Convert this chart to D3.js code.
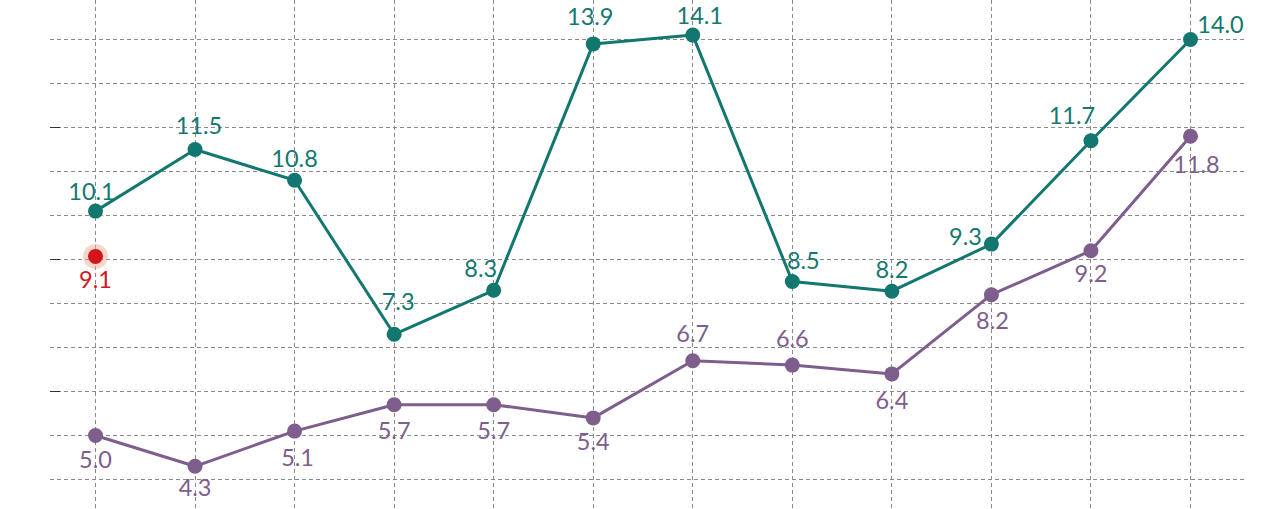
<!DOCTYPE html>
<html>
<head>
<meta charset="utf-8">
<script src="https://cdn.jsdelivr.net/npm/d3@7"></script>
<style>
  html, body { margin: 0; padding: 0; background: #fff; }
  svg { display: block; }
  text { font-family: Lato, "Open Sans", sans-serif; }
</style>
</head>
<body>
<svg id="chart" width="1280" height="509"></svg>
<script>
// ---- data ----
const categories = ["1","2","3","4","5","6","7","8","9","10","11","12"];
const seriesA = [10.1, 11.5, 10.8, 7.3, 8.3, 13.9, 14.1, 8.5, 8.28, 9.35, 11.7, 14.0];
const labelsA = ["10.1","11.5","10.8","7.3","8.3","13.9","14.1","8.5","8.2","9.3","11.7","14.0"];
const seriesB = [5.0, 4.3, 5.1, 5.7, 5.7, 5.4, 6.7, 6.6, 6.4, 8.2, 9.2, 11.8];
const labelsB = ["5.0","4.3","5.1","5.7","5.7","5.4","6.7","6.6","6.4","8.2","9.2","11.8"];
const highlight = { category: "1", value: 9.07, label: "9.1" };
const gridValues = [4,5,6,7,8,9,10,11,12,13,14];
const majorTicks = [6, 9, 12];

// ---- layout (label nudges, px) ----
const nudgeA = [[-4,-11],[4,-16],[0,-13],[4,-24],[-13,-13],[-3,-19],[7,-11],[11,-13],[0,-13],[-26,1],[-19,-17],[30,-7]];
const nudgeB = [[0,32],[0,30],[3,35],[0,34],[0,34],[0,32],[0,-19],[0,-18],[0,35],[1,34],[0,31],[6,37]];

const colA = "#12786f", colB = "#7d5e8c", colR = "#d3151f";

const svg = d3.select("#chart");
const x = d3.scalePoint().domain(categories).range([95.5, 1190.5]);
const y = d3.scaleLinear().domain([4, 14]).range([479.5, 39.5]);

// grid
const g = svg.append("g");
g.selectAll(".hg").data(gridValues).join("line")
  .attr("x1", 50).attr("x2", 1246)
  .attr("y1", d => Math.floor(y(d)) + 0.5).attr("y2", d => Math.floor(y(d)) + 0.5)
  .attr("stroke", "#8a8a8a").attr("stroke-width", 1).attr("stroke-dasharray", "4,3");
g.selectAll(".vg").data(categories).join("line")
  .attr("x1", d => Math.floor(x(d)) + 0.5).attr("x2", d => Math.floor(x(d)) + 0.5)
  .attr("y1", 0).attr("y2", 509)
  .attr("stroke", "#8a8a8a").attr("stroke-width", 1).attr("stroke-dasharray", "4,3");
g.selectAll(".tk").data(majorTicks).join("line")
  .attr("x1", 50).attr("x2", 60)
  .attr("y1", d => Math.floor(y(d)) + 0.5).attr("y2", d => Math.floor(y(d)) + 0.5)
  .attr("stroke", "#333").attr("stroke-width", 1);

function drawSeries(vals, labels, nudge, color) {
  const data = vals.map((v, i) => ({ c: categories[i], v, l: labels[i], n: nudge[i] }));
  svg.append("path").datum(data)
    .attr("fill", "none").attr("stroke", color).attr("stroke-width", 3)
    .attr("stroke-linejoin", "round")
    .attr("d", d3.line().x(d => x(d.c)).y(d => y(d.v)));
  svg.append("g").selectAll("circle").data(data).join("circle")
    .attr("cx", d => x(d.c)).attr("cy", d => y(d.v)).attr("r", 7.5).attr("fill", color);
  svg.append("g").selectAll("text").data(data).join("text")
    .attr("x", d => x(d.c) + d.n[0]).attr("y", d => y(d.v) + d.n[1])
    .attr("text-anchor", "middle").attr("font-size", 23.5).attr("fill", color)
    .text(d => d.l);
}
drawSeries(seriesA, labelsA, nudgeA, colA);
drawSeries(seriesB, labelsB, nudgeB, colB);

// highlight point
svg.append("circle").attr("cx", x(highlight.category)).attr("cy", y(highlight.value))
  .attr("r", 12.5).attr("fill", "#eaa88c").attr("fill-opacity", 0.45);
svg.append("circle").attr("cx", x(highlight.category)).attr("cy", y(highlight.value))
  .attr("r", 7.5).attr("fill", colR);
svg.append("text").attr("x", x(highlight.category)).attr("y", y(highlight.value) + 32)
  .attr("text-anchor", "middle").attr("font-size", 23.5).attr("fill", colR)
  .text(highlight.label);
</script>
</body>
</html>
